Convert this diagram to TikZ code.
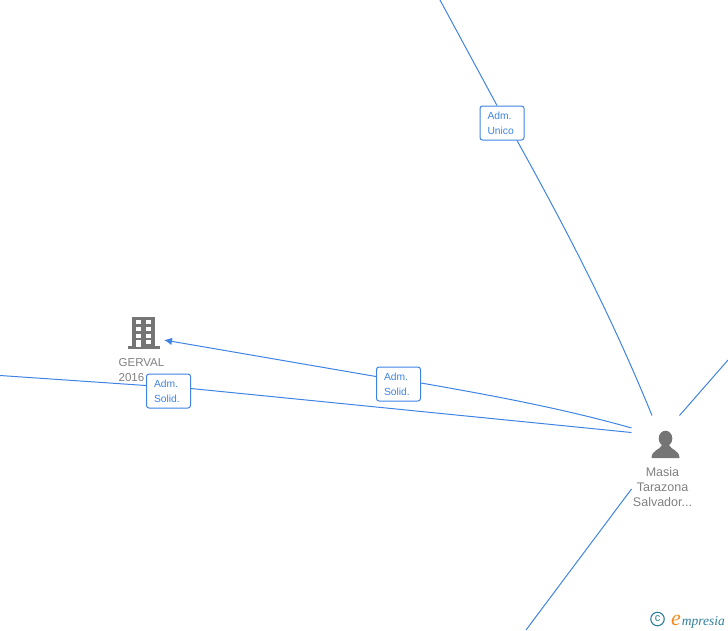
\documentclass[tikz,border=0pt]{standalone}
\usepackage{fontspec}
\setmainfont{Liberation Sans}
\newfontfamily\logofont{Liberation Serif}
\usepackage{xcolor}
\usetikzlibrary{calc, positioning, arrows.meta}
\definecolor{linkblue}{HTML}{3F84E5}
\definecolor{icongrey}{HTML}{757575}
\definecolor{textgrey}{HTML}{808080}
\definecolor{logoteal}{HTML}{2F7F9B}
\definecolor{logoorange}{HTML}{F08A1D}
\tikzset{
    link/.style={color=linkblue, line width=1pt},
    rolebox/.style={draw=linkblue, fill=white, rounded corners=2.5pt, line width=1pt,
        text=linkblue, font=\fontsize{10.3}{14.8}\selectfont, align=left,
        minimum width=44pt, minimum height=34pt, inner sep=0pt},
    nametext/.style={text=textgrey, inner sep=0pt}
}

\begin{document}
\begin{tikzpicture}[>={Latex[length=8pt,width=7.5pt]}, x=1pt, y=-1pt]
    \useasboundingbox (0,0) rectangle (728,630);

    % 1. Icons
    \fill[icongrey] (132,317) rectangle (154.5,346);
    \fill[icongrey] (128,345.5) rectangle (159.5,349);
    \foreach \px in {136,146} {
        \foreach \py in {320,327,333.5} {
            \fill[white] (\px,\py) rectangle +(4.5,4);
        }
    }
    \fill[white] (136,340) rectangle (140.5,347);
    \fill[white] (146,340) rectangle (150.5,344);
    \fill[icongrey] (665.5,438.5) ellipse (6.8 and 7.8);
    \fill[icongrey] (651.5,458) .. controls (651.5,450) and (660,450) .. (662,445)
        -- (669,445) .. controls (671,450) and (679.5,450) .. (679.5,458) -- cycle;

    % 2. Names and boxes
    \node[nametext, font=\fontsize{11.5}{15}\selectfont, align=left, anchor=north west] (gerval) at (118.5,358) {GERVAL\\2016};
    \node[nametext, font=\fontsize{12.5}{15}\selectfont, align=center, anchor=north] (masia) at (662.5,467) {Masia\\Tarazona\\Salvador...};
    \node[rolebox, text width=29pt] (boxUnico) at (502,123) {Adm.\\Unico};
    \node[rolebox, text width=29pt] (boxArrow) at (398.5,384) {Adm.\\Solid.};
    \node[rolebox, text width=29pt] (boxGerval) at (168.5,391) {Adm.\\Solid.};

    % 3. Free ends
    \coordinate (topEnd) at (440,0);
    \coordinate (leftEnd) at (0,375.5);
    \coordinate (rightEnd) at (728,360);
    \coordinate (bottomEnd) at (526,630);
    \coordinate (personTop) at (652,415.5);
    \coordinate (personTopRight) at (679.5,415.5);
    \coordinate (personLeftA) at (631.5,428);
    \coordinate (personLeftB) at (631.5,432.5);
    \coordinate (personBelow) at (631.5,489);
    \coordinate (buildingTip) at (164,340);

    % 4. Connectors
    \draw[link] (topEnd) -- ($(boxUnico.north)+(-5,0)$);
    \draw[link] ($(boxUnico.south)+(15,0)$) .. controls (575,245) and (615,325) .. (personTop);
    \draw[link, ->] ($(boxArrow.west)+(0,-7.5)$) -- (buildingTip);
    \draw[link] (personLeftA) .. controls (565,409) and (490,395) .. ($(boxArrow.east)+(0,-1)$);
    \draw[link] (personLeftB) -- ($(boxGerval.east)+(0,-2.5)$);
    \draw[link] ($(boxGerval.west)+(0,-5.5)$) -- (leftEnd);
    \draw[link] (personTopRight) -- (rightEnd);
    \draw[link] (personBelow) -- (bottomEnd);

    % 5. Logo
    \node[draw=logoteal, circle, line width=1.1pt, minimum size=13.5pt, inner sep=0pt,
        text=logoteal, font=\fontsize{11}{11}\selectfont] (logoMark) at (657.5,619) {c};
    \node[text=logoorange, font=\logofont\fontsize{22}{22}\selectfont\itshape, inner sep=0pt,
        anchor=base west] (logoE) at (671,625) {e};
    \node[text=logoteal, font=\logofont\fontsize{13.5}{13.5}\selectfont\itshape, inner sep=0pt,
        anchor=base west] (logoText) at ([xshift=0.5pt]logoE.base east) {mpresia};
\end{tikzpicture}
\end{document}
